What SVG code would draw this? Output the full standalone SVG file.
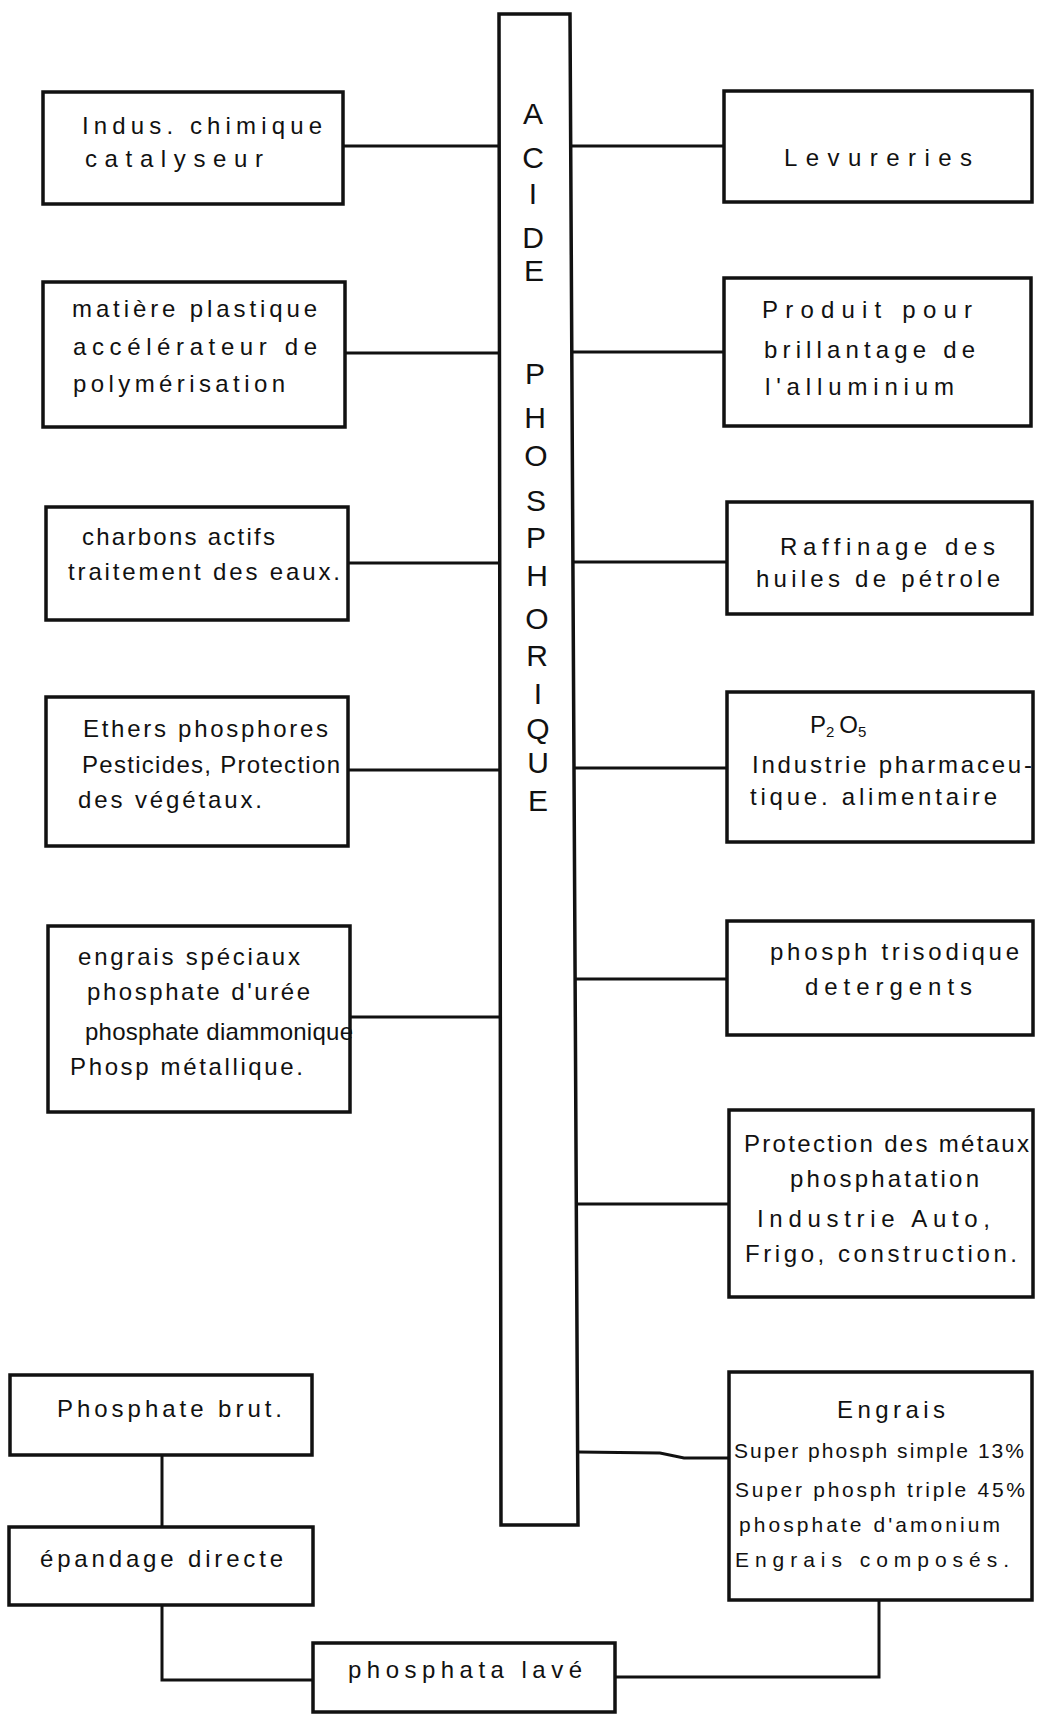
<svg xmlns="http://www.w3.org/2000/svg" width="1037" height="1714" viewBox="0 0 1037 1714">
<style>
.box{fill:#fff;stroke:#111;stroke-width:3.5}
.c{fill:none;stroke:#111;stroke-width:3}
.t{font-family:"Liberation Sans",Arial,sans-serif;font-size:24px;fill:#111}
.s{font-size:21px}
.v{font-family:"Liberation Sans",Arial,sans-serif;font-size:30px;fill:#111;text-anchor:middle}
</style>
<rect width="1037" height="1714" fill="#fff"/>
<g id="connectors">
<line class="c" x1="343" y1="146" x2="500" y2="146"/>
<line class="c" x1="345" y1="353" x2="500" y2="353"/>
<line class="c" x1="348" y1="563" x2="501" y2="563"/>
<line class="c" x1="348" y1="770" x2="501" y2="770"/>
<line class="c" x1="350" y1="1017" x2="501" y2="1017"/>
<line class="c" x1="570" y1="146" x2="724" y2="146"/>
<line class="c" x1="571" y1="352" x2="724" y2="352"/>
<line class="c" x1="572" y1="562" x2="727" y2="562"/>
<line class="c" x1="573" y1="768" x2="727" y2="768"/>
<line class="c" x1="575" y1="979" x2="727" y2="979"/>
<line class="c" x1="576" y1="1204" x2="729" y2="1204"/>
<polyline class="c" points="578,1452 660,1453 684,1458 729,1458"/>
<line class="c" x1="162" y1="1455" x2="162" y2="1527"/>
<polyline class="c" points="162,1605 162,1680 313,1680"/>
<polyline class="c" points="615,1677 879,1677 879,1600"/>
</g>
<g id="acide-phosphorique">
<path class="box" d="M499,14 L570,14 L578,1525 L501,1525 Z"/>
<text class="v" x="533" y="124">A</text>
<text class="v" x="533" y="168">C</text>
<text class="v" x="533" y="204">I</text>
<text class="v" x="533" y="248">D</text>
<text class="v" x="534" y="281">E</text>
<text class="v" x="535" y="384">P</text>
<text class="v" x="535" y="428">H</text>
<text class="v" x="536" y="466">O</text>
<text class="v" x="536" y="511">S</text>
<text class="v" x="536" y="548">P</text>
<text class="v" x="537" y="586">H</text>
<text class="v" x="537" y="629">O</text>
<text class="v" x="537" y="666">R</text>
<text class="v" x="538" y="704">I</text>
<text class="v" x="538" y="739">Q</text>
<text class="v" x="538" y="773">U</text>
<text class="v" x="538" y="811">E</text>
</g>
<g id="indus-chimique">
<rect class="box" x="43" y="92" width="300" height="112"/>
<text class="t" x="82" y="134" textLength="240" lengthAdjust="spacing">Indus. chimique</text>
<text class="t" x="85" y="167" textLength="178" lengthAdjust="spacing">catalyseur</text>
</g>
<g id="matiere-plastique">
<rect class="box" x="43" y="282" width="302" height="145"/>
<text class="t" x="72" y="317" textLength="245" lengthAdjust="spacing">matière plastique</text>
<text class="t" x="73" y="355" textLength="244" lengthAdjust="spacing">accélérateur de</text>
<text class="t" x="73" y="392" textLength="212" lengthAdjust="spacing">polymérisation</text>
</g>
<g id="charbons-actifs">
<rect class="box" x="46" y="507" width="302" height="113"/>
<text class="t" x="82" y="545" textLength="193" lengthAdjust="spacing">charbons actifs</text>
<text class="t" x="68" y="580" textLength="272" lengthAdjust="spacing">traitement des eaux.</text>
</g>
<g id="ethers-phosphores">
<rect class="box" x="46" y="697" width="302" height="149"/>
<text class="t" x="83" y="737" textLength="245" lengthAdjust="spacing">Ethers phosphores</text>
<text class="t" x="82" y="773" textLength="258" lengthAdjust="spacing">Pesticides, Protection</text>
<text class="t" x="78" y="808" textLength="184" lengthAdjust="spacing">des végétaux.</text>
</g>
<g id="engrais-speciaux">
<rect class="box" x="48" y="926" width="302" height="186"/>
<text class="t" x="78" y="965" textLength="222" lengthAdjust="spacing">engrais spéciaux</text>
<text class="t" x="87" y="1000" textLength="223" lengthAdjust="spacing">phosphate d'urée</text>
<text class="t" x="85" y="1040" textLength="268" lengthAdjust="spacing">phosphate diammonique</text>
<text class="t" x="70" y="1075" textLength="233" lengthAdjust="spacing">Phosp métallique.</text>
</g>
<g id="levureries">
<rect class="box" x="724" y="91" width="308" height="111"/>
<text class="t" x="784" y="166" textLength="188" lengthAdjust="spacing">Levureries</text>
</g>
<g id="produit-brillantage">
<rect class="box" x="724" y="278" width="307" height="148"/>
<text class="t" x="762" y="318" textLength="210" lengthAdjust="spacing">Produit pour</text>
<text class="t" x="764" y="358" textLength="211" lengthAdjust="spacing">brillantage de</text>
<text class="t" x="765" y="395" textLength="189" lengthAdjust="spacing">l'alluminium</text>
</g>
<g id="raffinage">
<rect class="box" x="727" y="502" width="305" height="112"/>
<text class="t" x="780" y="555" textLength="215" lengthAdjust="spacing">Raffinage des</text>
<text class="t" x="756" y="587" textLength="244" lengthAdjust="spacing">huiles de pétrole</text>
</g>
<g id="p2o5">
<rect class="box" x="727" y="692" width="306" height="150"/>
<text class="t" x="810" y="733">P<tspan font-size="15" dy="4">2</tspan><tspan dy="-4" dx="5">O</tspan><tspan font-size="15" dy="4">5</tspan></text>
<text class="t" x="752" y="773" textLength="280" lengthAdjust="spacing">Industrie pharmaceu-</text>
<text class="t" x="750" y="805" textLength="247" lengthAdjust="spacing">tique. alimentaire</text>
</g>
<g id="phosph-trisodique">
<rect class="box" x="727" y="921" width="306" height="114"/>
<text class="t" x="770" y="960" textLength="249" lengthAdjust="spacing">phosph trisodique</text>
<text class="t" x="805" y="995" textLength="167" lengthAdjust="spacing">detergents</text>
</g>
<g id="protection-metaux">
<rect class="box" x="729" y="1110" width="304" height="187"/>
<text class="t" x="744" y="1152" textLength="285" lengthAdjust="spacing">Protection des métaux</text>
<text class="t" x="790" y="1187" textLength="189" lengthAdjust="spacing">phosphatation</text>
<text class="t" x="757" y="1227" textLength="233" lengthAdjust="spacing">Industrie Auto,</text>
<text class="t" x="745" y="1262" textLength="272" lengthAdjust="spacing">Frigo, construction.</text>
</g>
<g id="engrais">
<rect class="box" x="729" y="1372" width="303" height="228"/>
<text class="t" x="837" y="1418" textLength="108" lengthAdjust="spacing">Engrais</text>
<text class="t s" x="734" y="1458" textLength="290" lengthAdjust="spacing">Super phosph simple 13%</text>
<text class="t s" x="735" y="1497" textLength="290" lengthAdjust="spacing">Super phosph triple 45%</text>
<text class="t s" x="739" y="1532" textLength="261" lengthAdjust="spacing">phosphate d'amonium</text>
<text class="t s" x="735" y="1567" textLength="274" lengthAdjust="spacing">Engrais composés.</text>
</g>
<g id="phosphate-brut">
<rect class="box" x="10" y="1375" width="302" height="80"/>
<text class="t" x="57" y="1417" textLength="225" lengthAdjust="spacing">Phosphate brut.</text>
</g>
<g id="epandage-directe">
<rect class="box" x="9" y="1527" width="304" height="78"/>
<text class="t" x="40" y="1567" textLength="243" lengthAdjust="spacing">épandage directe</text>
</g>
<g id="phosphate-lave">
<rect class="box" x="313" y="1643" width="302" height="69"/>
<text class="t" x="348" y="1678" textLength="234" lengthAdjust="spacing">phosphata lavé</text>
</g>
</svg>
